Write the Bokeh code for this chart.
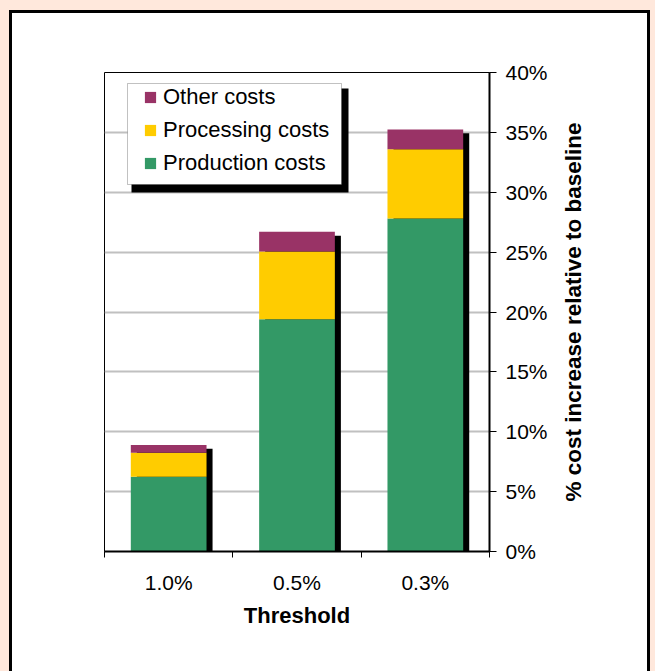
import numpy as np
from bokeh.plotting import figure
from bokeh.layouts import row, column
from bokeh.models import (Range1d, FixedTicker, PrintfTickFormatter, Legend, LegendItem,
                          BoxAnnotation, ColumnDataSource, Label)
from bokeh.embed import file_html
from bokeh.resources import INLINE

# ---- data ----
thresholds = ["1.0%", "0.5%", "0.3%"]
production = [6.25, 19.4, 27.8]
processing = [2.0, 5.65, 5.8]
other = [0.65, 1.65, 1.65]
y_ticks = [0, 5, 10, 15, 20, 25, 30, 35, 40]
y_title = "% cost increase relative to baseline"
x_title = "Threshold"

FONT = "Liberation Sans"
PEACH = "#FFE8DC"
GREEN = "#339966"
YELLOW = "#FFCC00"
PURPLE = "#993366"

xs = np.arange(len(thresholds)) + 0.5
prod = np.array(production)
proc = np.array(processing)
oth = np.array(other)
top1 = prod
top2 = prod + proc
top3 = prod + proc + oth

src = ColumnDataSource(dict(x=xs, zero=np.zeros(len(xs)), t1=top1, t2=top2, t3=top3,
                            sx=xs + 0.047, st=top3 - 0.33))

# main figure occupies page x 12..556, y 13..671
OX, OY = 12, 13
p = figure(width=544, height=658, x_range=Range1d(0, 3), y_range=Range1d(0, 40),
           output_backend="svg", toolbar_location=None, y_axis_location="right",
           min_border_left=104 - OX, min_border_right=544 - (489 - OX),
           min_border_top=72 - OY, min_border_bottom=658 - (551 - OY),
           border_fill_color="white", background_fill_color="white",
           outline_line_color="black", outline_line_width=1)


def canvas_box(l, r, t, b, **kw):
    return BoxAnnotation(left=l - OX, right=r - OX, top=t - OY, bottom=b - OY,
                         left_units="canvas", right_units="canvas",
                         top_units="canvas", bottom_units="canvas", **kw)


# grid
p.xgrid.visible = False
p.ygrid.ticker = FixedTicker(ticks=y_ticks)
p.ygrid.grid_line_color = "#C0C0C0"
p.ygrid.grid_line_width = 2

# bars
p.vbar(x="sx", top="st", bottom="zero", width=0.59, source=src, fill_color="black", line_color=None)
r_prod = p.vbar(x="x", bottom="zero", top="t1", width=0.59, source=src, fill_color=GREEN, line_color=None)
r_proc = p.vbar(x="x", bottom="t1", top="t2", width=0.59, source=src, fill_color=YELLOW, line_color=None)
r_oth = p.vbar(x="x", bottom="t2", top="t3", width=0.59, source=src, fill_color=PURPLE, line_color=None)

# y axis (right)
ya = p.yaxis[0]
ya.ticker = FixedTicker(ticks=y_ticks)
ya.formatter = PrintfTickFormatter(format="%d%%")
ya.axis_line_color = "black"
ya.axis_line_width = 2
ya.major_tick_out = 7
ya.major_tick_in = 0
ya.minor_tick_out = 0
ya.minor_tick_in = 0
ya.major_tick_line_color = "black"
ya.major_label_text_font = FONT
ya.major_label_text_font_size = "21px"
ya.major_label_text_color = "black"
ya.major_label_standoff = 9

# x axis
xa = p.xaxis[0]
xa.ticker = FixedTicker(ticks=list(xs), minor_ticks=list(np.arange(len(thresholds) + 1)))
xa.major_label_overrides = {float(x): t for x, t in zip(xs, thresholds)}
xa.axis_line_color = "black"
xa.axis_line_width = 2
xa.major_tick_out = 0
xa.major_tick_in = 0
xa.minor_tick_out = 6
xa.minor_tick_in = 0
xa.minor_tick_line_color = "black"
xa.major_label_text_font = FONT
xa.major_label_text_font_size = "21px"
xa.major_label_text_color = "black"
xa.major_label_standoff = 13
xa.axis_label = x_title
xa.axis_label_text_font = FONT
xa.axis_label_text_font_size = "22px"
xa.axis_label_text_font_style = "bold"
xa.axis_label_text_color = "black"
xa.axis_label_standoff = 6

# legend box with drop shadow
p.add_layout(canvas_box(131, 348, 88, 192, fill_color="black", fill_alpha=1, line_color=None,
                        level="annotation"))
p.add_layout(canvas_box(127, 341, 83, 184, fill_color="white", fill_alpha=1, line_color="#333333",
                        line_width=1, level="annotation"))

legend = Legend(items=[LegendItem(label="Other costs", renderers=[r_oth]),
                       LegendItem(label="Processing costs", renderers=[r_proc]),
                       LegendItem(label="Production costs", renderers=[r_prod])],
                location=(39, 375), orientation="vertical",
                label_text_font=FONT, label_text_font_size="22px", label_text_color="black",
                glyph_width=14, glyph_height=14, label_height=26, label_standoff=6,
                spacing=7, padding=0, margin=0,
                border_line_color=None, background_fill_alpha=0)
p.add_layout(legend)

# strip holding the vertical axis title (page x 556..647)
p2 = figure(width=91, height=658, x_range=Range1d(0, 91), y_range=Range1d(0, 658),
            output_backend="svg", toolbar_location=None, x_axis_location=None, y_axis_location=None,
            min_border=0, min_border_left=0, min_border_right=0, min_border_top=0, min_border_bottom=0,
            border_fill_color="white", background_fill_color="white", outline_line_color=None)
p2.grid.visible = False
p2.add_layout(Label(x=17, y=329, text=y_title,
                    angle=90, angle_units="deg", text_align="center", text_baseline="middle",
                    text_font=FONT, text_font_size="22.5px", text_font_style="bold",
                    text_color="black"))

inner = row(p, p2, margin=(10, 0, 0, 9),
            styles={"border": "3px solid black", "border-bottom": "none", "background-color": "white"})
root = column(inner, width=655, height=671,
              styles={"background-color": PEACH, "overflow": "hidden"})

open("out.html", "w").write(file_html(root, INLINE))
